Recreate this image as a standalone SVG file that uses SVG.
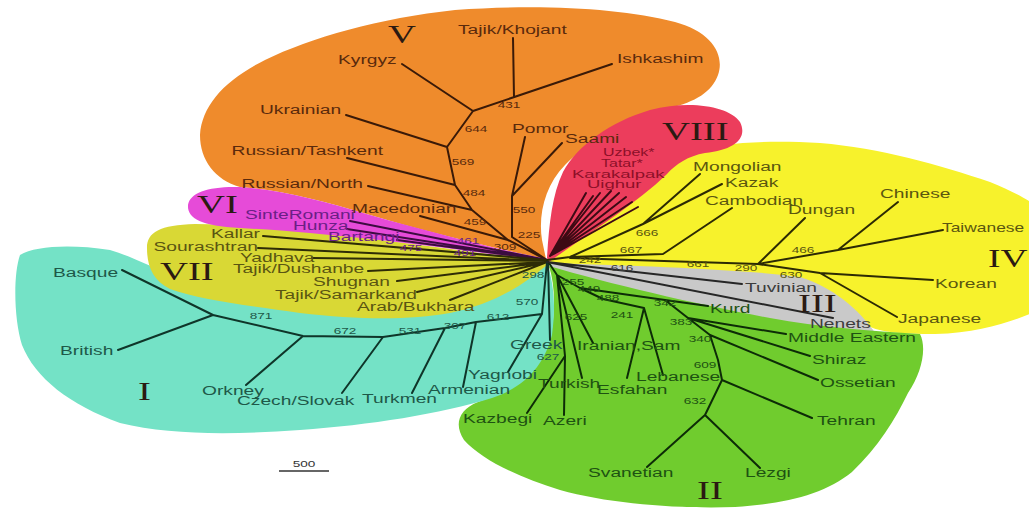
<svg xmlns="http://www.w3.org/2000/svg" width="1029" height="513" viewBox="0 0 1029 513">
<style>
  .lb{font-family:"Liberation Sans",Arial,sans-serif;font-size:12px}
  .sm{font-family:"Liberation Sans",Arial,sans-serif;font-size:10px}
  .nm{font-family:"Liberation Sans",Arial,sans-serif;font-size:8.5px;text-anchor:middle}
  .rn{font-family:"Liberation Serif","Times New Roman",serif;font-size:25px;fill:#2b1a12}
  .t5{fill:#5a2a0c}.t6{fill:#6b1f86}.t7{fill:#5a5512}.t1{fill:#1e5848}
  .t2{fill:#1e5212}.t3{fill:#3c3c3c}.t4{fill:#5a5610}.t8{fill:#8c1028}
  .e{fill:none;stroke-width:2;stroke-linecap:round;stroke-linejoin:round}
  .s5{stroke:#3a1a08}.s6{stroke:#3c0c40}.s7{stroke:#2e2c06}.s1{stroke:#0f3529}
  .s2{stroke:#0d2c07}.s3{stroke:#262626}.s4{stroke:#2c2a04}.s8{stroke:#3d0a14}
</style>
<rect width="1029" height="513" fill="#ffffff"/>

<!-- clade backgrounds -->
<g id="clades">
  <path id="clade-V" fill="#ef8b2c" d="M546,259 C480,245 420,230 370,215 C320,200 280,190 240,187 C215,180 200,160 200,135 C202,105 225,80 265,60 C310,38 380,18 455,10 C540,4 620,8 675,22 C712,32 725,55 718,75 C712,92 695,102 670,108 C630,118 590,140 565,165 C545,185 538,215 542,240 Z"/>
  <path id="clade-IV" fill="#f7f22c" d="M549,262 C590,230 640,180 690,152 C720,142 770,140 820,143 C880,148 940,165 990,182 C1010,190 1025,198 1035,205 L1035,312 C1010,322 980,333 935,334 C900,334 880,332 868,326 L800,285 C720,272 640,266 549,264 Z"/>
  <path id="clade-VIII" fill="#ec3d5c" d="M547,258 C549,225 552,195 563,172 C578,145 610,122 650,110 C690,100 728,106 740,122 C748,138 735,150 705,153 C688,156 676,164 667,174 C635,205 590,232 549,262 Z"/>
  <path id="clade-III" fill="#c9c9c9" d="M549,263 C650,266 750,270 800,277 C832,287 858,308 876,334 L760,322 C690,306 610,287 549,268 Z"/>
  <path id="clade-II" fill="#70cc2e" d="M549,266 C610,284 700,305 770,318 C820,327 870,331 920,334 C927,348 922,372 908,393 C895,420 878,447 852,472 C825,494 785,504 735,507 C680,509 610,504 560,490 C520,478 482,460 464,440 C454,425 458,410 478,402 C510,390 540,370 550,340 C556,310 555,285 549,266 Z"/>
  <path id="clade-I" fill="#74e2c6" d="M547,262 C530,280 500,292 450,298 L250,300 C190,290 150,262 110,250 C70,244 35,246 20,255 C13,275 14,320 22,345 C35,378 70,405 120,423 C170,435 230,435 300,430 C370,425 440,414 492,398 C528,386 545,362 552,335 C556,305 554,285 547,262 Z"/>
  <path id="clade-VII" fill="#d9d835" d="M547,263 C500,255 420,245 350,236 C300,230 240,224 195,224 C160,225 147,232 147,248 C147,265 152,280 170,289 C200,300 250,306 300,313 C360,320 410,320 450,313 C490,305 520,288 547,265 Z"/>
  <path id="clade-VI" fill="#e64bd8" d="M547,259 C500,250 430,232 370,215 C320,200 280,190 240,187 C210,186 190,192 188,205 C187,218 200,226 240,228 C320,232 440,246 547,262 Z"/>
</g>

<!-- tree branches -->
<g id="connectors" class="e">
  <!-- V -->
  <path class="s5" d="M513,38 L514,97 M612,64 L473,111 M402,64 L473,111 L447,147 M346,115 L447,147 L455,185 M347,158 L455,185 L472,210 M368,186 L472,210 L508,240 M420,216 L508,240 L547,260 M525,137 L512,196 M562,143 L512,196 L512,237 L547,260"/>
  <!-- VI -->
  <path class="s6" d="M350,221 L547,260 M347,229 L547,260 M397,240 L547,260"/>
  <!-- VII -->
  <path class="s7" d="M263,236 L547,260 M258,248 L547,261 M312,258 L547,261 M368,271 L547,262 M397,281 L547,262 M417,292 L547,262 M450,300 L547,262"/>
  <!-- I -->
  <path class="s1" d="M122,270 L213,315 M118,350 L213,315 L303,336 L383,337 L445,328 L476,322 L510,318 L542,314 L547,262 M303,336 L246,385 M383,337 L342,393 M445,328 L412,393 M476,322 L463,387 M542,314 L508,372 M548,262 L550,340"/>
  <!-- II -->
  <path class="s2" d="M547,260 L557,275 L565,356 L527,413 M565,356 L564,415 M557,275 L582,378 M557,275 L593,343 M557,275 L580,288 L603,299 L644,308 L627,378 M644,308 L663,375 M580,288 L665,300 L708,306 M665,300 L688,318 L786,334 M688,318 L810,356 M688,318 L710,335 L818,380 M710,335 L718,360 L722,380 L812,418 M722,380 L705,415 L647,467 M705,415 L760,468"/>
  <!-- III -->
  <path class="s3" d="M547,262 L742,284 M547,262 L833,318"/>
  <!-- IV -->
  <path class="s4" d="M547,260 L570,257 L643,224 L700,174 M643,224 L722,184 M570,257 L663,254 L732,208 M570,258 L758,264 L805,218 M758,264 L838,250 L898,202 M838,250 L943,230 M758,264 L820,273 L933,280 M820,273 L897,317"/>
  <!-- VIII -->
  <path class="s8" d="M550,256 L586,193 M550,256 L593,196 M550,256 L600,193 M550,256 L611,191 M550,256 L619,193 M550,256 L626,197 M550,256 L632,202 M550,256 L638,207"/>
</g>

<!-- clade numerals -->
<g id="numerals">
  <text class="rn" transform="translate(388 43) scale(1.55 1)">V</text>
  <text class="rn" transform="translate(197 213) scale(1.55 1)">VI</text>
  <text class="rn" transform="translate(160 280) scale(1.55 1)">VII</text>
  <text class="rn" transform="translate(662 140) scale(1.55 1)">VIII</text>
  <text class="rn" transform="translate(138 400) scale(1.55 1)">I</text>
  <text class="rn" transform="translate(697 499) scale(1.55 1)">II</text>
  <text class="rn" transform="translate(798 312) scale(1.55 1)">III</text>
  <text class="rn" transform="translate(988 267) scale(1.5 1)">IV</text>
</g>

<!-- population labels -->
<g id="n-tajik-khojant"><text class="lb t5" transform="translate(458 34) scale(1.6 1)">Tajik/Khojant</text></g>
<g id="n-ishkashim"><text class="lb t5" transform="translate(617 63) scale(1.6 1)">Ishkashim</text></g>
<g id="n-kyrgyz"><text class="lb t5" transform="translate(338 64) scale(1.6 1)">Kyrgyz</text></g>
<g id="n-ukrainian"><text class="lb t5" transform="translate(260 114) scale(1.6 1)">Ukrainian</text></g>
<g id="n-russian-tashkent"><text class="lb t5" text-anchor="end" transform="translate(383 155) scale(1.6 1)">Russian/Tashkent</text></g>
<g id="n-russian-north"><text class="lb t5" text-anchor="end" transform="translate(363 188) scale(1.6 1)">Russian/North</text></g>
<g id="n-macedonian"><text class="lb t5" transform="translate(352 213) scale(1.6 1)">Macedonian</text></g>
<g id="n-pomor"><text class="lb t5" transform="translate(512 133) scale(1.6 1)">Pomor</text></g>
<g id="n-saami"><text class="lb t5" transform="translate(565 143) scale(1.6 1)">Saami</text></g>

<g id="n-sinteromani"><text class="lb t6" transform="translate(245 219) scale(1.6 1)">SinteRomani</text></g>
<g id="n-hunza"><text class="lb t6" transform="translate(293 230) scale(1.6 1)">Hunza</text></g>
<g id="n-bartangi"><text class="lb t6" transform="translate(328 241) scale(1.6 1)">Bartangi</text></g>

<g id="n-kallar"><text class="lb t7" text-anchor="end" transform="translate(260 238) scale(1.6 1)">Kallar</text></g>
<g id="n-sourashtran"><text class="lb t7" text-anchor="end" transform="translate(258 251) scale(1.6 1)">Sourashtran</text></g>
<g id="n-yadhava"><text class="lb t7" transform="translate(240 262) scale(1.6 1)">Yadhava</text></g>
<g id="n-tajik-dushanbe"><text class="lb t7" transform="translate(233 273) scale(1.6 1)">Tajik/Dushanbe</text></g>
<g id="n-shugnan"><text class="lb t7" transform="translate(313 286) scale(1.6 1)">Shugnan</text></g>
<g id="n-tajik-samarkand"><text class="lb t7" transform="translate(275 299) scale(1.6 1)">Tajik/Samarkand</text></g>
<g id="n-arab-bukhara"><text class="lb t7" transform="translate(357 311) scale(1.6 1)">Arab/Bukhara</text></g>

<g id="n-basque"><text class="lb t1" transform="translate(53 277) scale(1.6 1)">Basque</text></g>
<g id="n-british"><text class="lb t1" transform="translate(60 355) scale(1.6 1)">British</text></g>
<g id="n-orkney"><text class="lb t1" transform="translate(202 395) scale(1.6 1)">Orkney</text></g>
<g id="n-czech-slovak"><text class="lb t1" transform="translate(237 405) scale(1.6 1)">Czech/Slovak</text></g>
<g id="n-turkmen"><text class="lb t1" transform="translate(362 403) scale(1.6 1)">Turkmen</text></g>
<g id="n-armenian"><text class="lb t1" transform="translate(428 394) scale(1.6 1)">Armenian</text></g>
<g id="n-yagnobi"><text class="lb t1" transform="translate(468 379) scale(1.6 1)">Yagnobi</text></g>
<g id="n-greek"><text class="lb t1" transform="translate(510 349) scale(1.6 1)">Greek</text></g>

<g id="n-kazbegi"><text class="lb t2" transform="translate(463 423) scale(1.6 1)">Kazbegi</text></g>
<g id="n-azeri"><text class="lb t2" transform="translate(543 425) scale(1.6 1)">Azeri</text></g>
<g id="n-turkish"><text class="lb t2" transform="translate(538 388) scale(1.6 1)">Turkish</text></g>
<g id="n-esfahan"><text class="lb t2" transform="translate(597 394) scale(1.6 1)">Esfahan</text></g>
<g id="n-lebanese"><text class="lb t2" transform="translate(636 381) scale(1.6 1)">Lebanese</text></g>
<g id="n-iranian-sam"><text class="lb t2" transform="translate(577 350) scale(1.6 1)">Iranian,Sam</text></g>
<g id="n-svanetian"><text class="lb t2" transform="translate(588 477) scale(1.6 1)">Svanetian</text></g>
<g id="n-lezgi"><text class="lb t2" transform="translate(745 477) scale(1.6 1)">Lezgi</text></g>
<g id="n-tehran"><text class="lb t2" transform="translate(817 425) scale(1.6 1)">Tehran</text></g>
<g id="n-ossetian"><text class="lb t2" transform="translate(820 387) scale(1.6 1)">Ossetian</text></g>
<g id="n-shiraz"><text class="lb t2" transform="translate(812 364) scale(1.6 1)">Shiraz</text></g>
<g id="n-middle-eastern"><text class="lb t2" transform="translate(788 342) scale(1.6 1)">Middle Eastern</text></g>
<g id="n-kurd"><text class="lb t2" transform="translate(710 313) scale(1.6 1)">Kurd</text></g>

<g id="n-tuvinian"><text class="lb t3" transform="translate(745 292) scale(1.6 1)">Tuvinian</text></g>
<g id="n-nenets"><text class="lb t3" transform="translate(810 328) scale(1.6 1)">Nenets</text></g>

<g id="n-mongolian"><text class="lb t4" transform="translate(693 171) scale(1.6 1)">Mongolian</text></g>
<g id="n-kazak"><text class="lb t4" transform="translate(725 187) scale(1.6 1)">Kazak</text></g>
<g id="n-cambodian"><text class="lb t4" transform="translate(705 205) scale(1.6 1)">Cambodian</text></g>
<g id="n-dungan"><text class="lb t4" transform="translate(788 214) scale(1.6 1)">Dungan</text></g>
<g id="n-chinese"><text class="lb t4" transform="translate(880 198) scale(1.6 1)">Chinese</text></g>
<g id="n-taiwanese"><text class="lb t4" transform="translate(942 232) scale(1.45 1)">Taiwanese</text></g>
<g id="n-korean"><text class="lb t4" transform="translate(935 288) scale(1.6 1)">Korean</text></g>
<g id="n-japanese"><text class="lb t4" transform="translate(898 323) scale(1.6 1)">Japanese</text></g>

<g id="n-uzbek"><text class="sm t8" transform="translate(603 156) scale(1.6 1)">Uzbek*</text></g>
<g id="n-tatar"><text class="sm t8" transform="translate(601 167) scale(1.6 1)">Tatar*</text></g>
<g id="n-karakalpak"><text class="sm t8" transform="translate(572 178) scale(1.85 1)">Karakalpak</text></g>
<g id="n-uighur"><text class="sm t8" transform="translate(587 188) scale(1.85 1)">Uighur</text></g>

<!-- bootstrap values on internal branches -->
<g id="support">
  <g class="t5">
    <text class="nm" transform="translate(509 108) scale(1.6 1)">431</text>
    <text class="nm" transform="translate(476 132) scale(1.6 1)">644</text>
    <text class="nm" transform="translate(463 165) scale(1.6 1)">569</text>
    <text class="nm" transform="translate(474 196) scale(1.6 1)">484</text>
    <text class="nm" transform="translate(475 225) scale(1.6 1)">459</text>
    <text class="nm" transform="translate(524 213) scale(1.6 1)">550</text>
    <text class="nm" transform="translate(529 238) scale(1.6 1)">225</text>
    <text class="nm" transform="translate(505 250) scale(1.6 1)">309</text>
  </g>
  <g class="t6">
    <text class="nm" transform="translate(468 244) scale(1.6 1)">461</text>
    <text class="nm" transform="translate(411 251) scale(1.6 1)">475</text>
    <text class="nm" transform="translate(465 256) scale(1.6 1)">491</text>
  </g>
  <g class="t1">
    <text class="nm" transform="translate(261 319) scale(1.6 1)">871</text>
    <text class="nm" transform="translate(345 334) scale(1.6 1)">672</text>
    <text class="nm" transform="translate(410 334) scale(1.6 1)">531</text>
    <text class="nm" transform="translate(455 329) scale(1.6 1)">307</text>
    <text class="nm" transform="translate(498 320) scale(1.6 1)">612</text>
    <text class="nm" transform="translate(527 305) scale(1.6 1)">570</text>
    <text class="nm" transform="translate(533 278) scale(1.6 1)">298</text>
    <text class="nm" transform="translate(548 360) scale(1.6 1)">627</text>
  </g>
  <g class="t2">
    <text class="nm" transform="translate(573 285) scale(1.6 1)">255</text>
    <text class="nm" transform="translate(589 292) scale(1.6 1)">449</text>
    <text class="nm" transform="translate(608 301) scale(1.6 1)">488</text>
    <text class="nm" transform="translate(576 320) scale(1.6 1)">625</text>
    <text class="nm" transform="translate(622 318) scale(1.6 1)">241</text>
    <text class="nm" transform="translate(665 306) scale(1.6 1)">342</text>
    <text class="nm" transform="translate(681 325) scale(1.6 1)">383</text>
    <text class="nm" transform="translate(700 342) scale(1.6 1)">340</text>
    <text class="nm" transform="translate(705 368) scale(1.6 1)">609</text>
    <text class="nm" transform="translate(695 404) scale(1.6 1)">632</text>
  </g>
  <g class="t3">
    <text class="nm" transform="translate(622 271) scale(1.6 1)">616</text>
  </g>
  <g class="t4">
    <text class="nm" transform="translate(647 236) scale(1.6 1)">666</text>
    <text class="nm" transform="translate(631 253) scale(1.6 1)">667</text>
    <text class="nm" transform="translate(590 263) scale(1.6 1)">242</text>
    <text class="nm" transform="translate(698 267) scale(1.6 1)">661</text>
    <text class="nm" transform="translate(746 271) scale(1.6 1)">290</text>
    <text class="nm" transform="translate(803 253) scale(1.6 1)">466</text>
    <text class="nm" transform="translate(791 278) scale(1.6 1)">630</text>
  </g>
</g>

<!-- scale bar -->
<g id="scale-bar">
  <text class="nm" fill="#333333" transform="translate(304 467) scale(1.6 1)">500</text>
  <line x1="279" y1="471" x2="329" y2="471" stroke="#333333" stroke-width="1.5"/>
</g>
</svg>
